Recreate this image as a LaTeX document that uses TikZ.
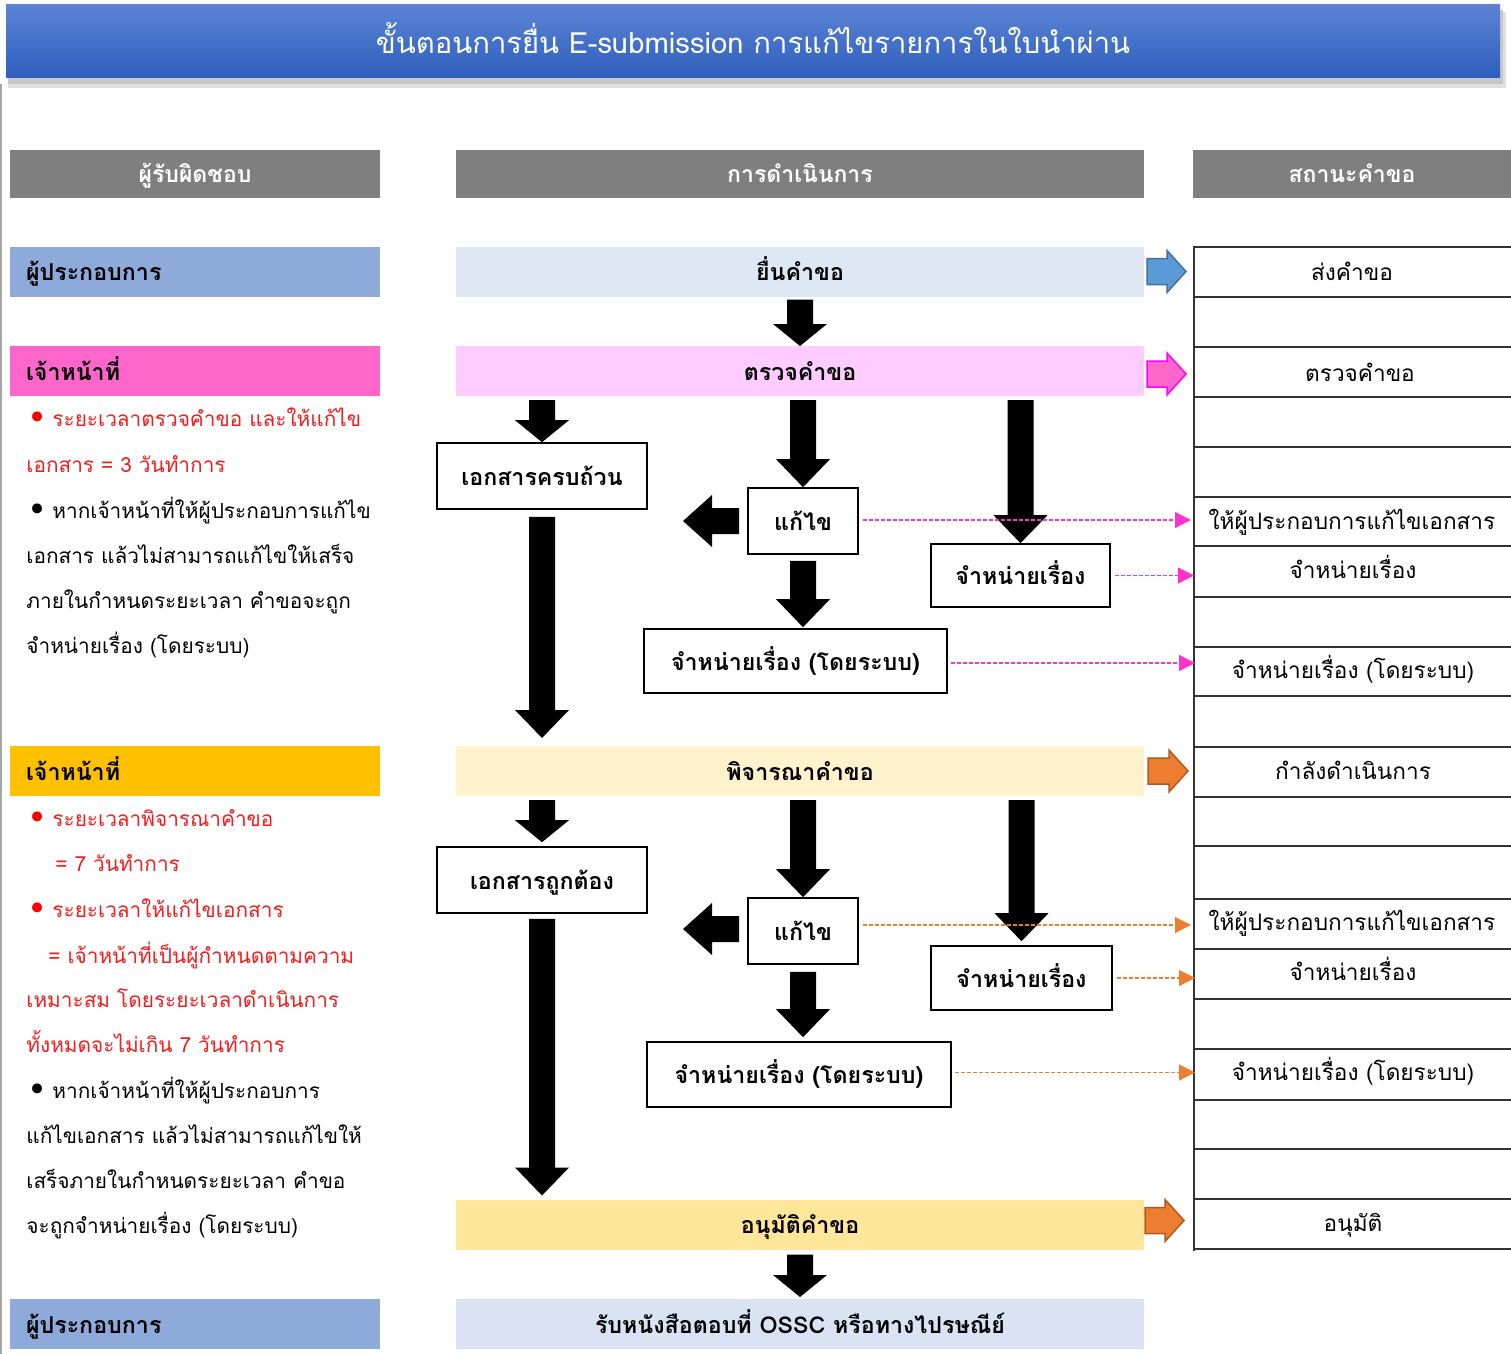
\documentclass[tikz,border=0pt]{standalone}
\usepackage{fontspec}
\setmainfont[Script=Thai]{Loma}
\newfontfamily\dejavu{DejaVu Sans}
\usetikzlibrary{calc,arrows.meta}
\definecolor{titleTop}{HTML}{5B84D4}
\definecolor{titleBot}{HTML}{2E5EBD}
\definecolor{hdrgray}{HTML}{7F7F7F}
\definecolor{opblue}{HTML}{8EAADB}
\definecolor{lightblue}{HTML}{DEE8F5}
\definecolor{pinkdark}{HTML}{FF66CC}
\definecolor{pinklight}{HTML}{FFCCFF}
\definecolor{goldband}{HTML}{FFC000}
\definecolor{cream}{HTML}{FFF2CC}
\definecolor{yellowband}{HTML}{FFE699}
\definecolor{paleblue}{HTML}{DAE3F3}
\definecolor{arrblue}{HTML}{5B9BD5}
\definecolor{arrblueb}{HTML}{41719C}
\definecolor{orangef}{HTML}{ED7D31}
\definecolor{orangeb}{HTML}{AE5A21}
\definecolor{magentab}{HTML}{FF00FF}
\definecolor{txtred}{HTML}{F41C1C}
\definecolor{dashpink}{HTML}{FF33CC}
\newcommand\bul[1]{\raisebox{-1.6pt}{\dejavu\fontsize{17}{17}\selectfont\color{#1}•}\hspace{2.5pt}}
% vertical block arrow: #1 start, #2 tip, #3 head length
\newcommand\vblk[3]{\fill[black] let \p1=(#1), \p2=(#2) in
  (\x2-6.5pt,\y1) -- (\x2+6.5pt,\y1) -- (\x2+6.5pt,\y2+#3) -- (\x2+13.5pt,\y2+#3)
  -- (\x2,\y2) -- (\x2-13.5pt,\y2+#3) -- (\x2-6.5pt,\y2+#3) -- cycle;}
% left block arrow: #1 start, #2 tip
\newcommand\lblk[2]{\fill[black] let \p1=(#1), \p2=(#2) in
  (\x1,\y2+6.5pt) -- (\x2+14.5pt,\y2+6.5pt) -- (\x2+14.5pt,\y2+13pt) -- (\x2,\y2)
  -- (\x2+14.5pt,\y2-13pt) -- (\x2+14.5pt,\y2-6.5pt) -- (\x1,\y2-6.5pt) -- cycle;}
% right status block arrow: #1 start, #2 tip, #3 fill, #4 border
\newcommand\rblk[4]{\filldraw[fill=#3, draw=#4, line width=0.75pt, line join=miter] let \p1=(#1), \p2=(#2) in
  (\x1,\y2+6.5pt) -- (\x2-9.5pt,\y2+6.5pt) -- (\x2-9.5pt,\y2+10.5pt) -- (\x2,\y2)
  -- (\x2-9.5pt,\y2-10.5pt) -- (\x2-9.5pt,\y2-6.5pt) -- (\x1,\y2-6.5pt) -- cycle;}
\begin{document}
\begin{tikzpicture}[x=0.5pt,y=-0.5pt,
  band/.style={inner ysep=0pt, inner xsep=0pt, outer sep=0pt, minimum height=25pt,
    text height=11pt, text depth=2pt, font=\fontsize{11.6}{14}\selectfont\bfseries},
  lband/.style={band, minimum width=185pt, inner xsep=8pt, text width=169pt, align=left},
  mband/.style={band, minimum width=344pt},
  hdr/.style={fill=hdrgray, text=white, inner sep=0pt, minimum height=24pt,
    text height=11pt, text depth=2pt, font=\fontsize{11.5}{14}\selectfont\bfseries},
  box/.style={draw=black, line width=0.8pt, fill=white, inner sep=0pt,
    text height=11pt, text depth=2pt, font=\fontsize{11.6}{14}\selectfont\bfseries},
  stat/.style={inner sep=0pt, text height=11pt, text depth=2pt, font=\fontsize{11.3}{14}\selectfont},
  note/.style={anchor=base west, inner sep=0pt, font=\fontsize{10.4}{14}\selectfont},
  rednote/.style={note, text=txtred},
  pdash/.style={draw=dashpink, line width=0.6pt, dash pattern=on 2pt off 1pt, -{Triangle[length=8pt,width=8pt]}},
  odash/.style={draw=orangef, line width=0.6pt, dash pattern=on 2pt off 1pt, -{Triangle[length=8pt,width=8pt]}},
  tline/.style={draw=black!80, line width=0.8pt}
]
\useasboundingbox (0,0) rectangle (1511,1354);
\fill[white] (0,0) rectangle (1511,1354);
\draw[black!35, line width=0.8pt] (1,84) -- (1,1354);

% title with shadow
\fill[black!12] (8,12) rectangle (1506,88);
\fill[black!22] (8,10) rectangle (1503,84);
\node[top color=titleTop, bottom color=titleBot, minimum width=747pt, minimum height=36.5pt, inner sep=0pt,
  text=white, text height=14pt, text depth=2pt, font=\fontsize{14.6}{18}\selectfont] (title) at (753,41.5) {ขั้นตอนการยื่น E-submission การแก้ไขรายการในใบนำผ่าน};

% column headers
\node[hdr, minimum width=185pt] (hL) at (195,174) {ผู้รับผิดชอบ};
\node[hdr, minimum width=344pt] (hM) at (800,174) {การดำเนินการ};
\node[hdr, minimum width=159pt] (hR) at (1352,174) {สถานะคำขอ};

% left bands
\node[lband, fill=opblue] (op1) at (195,271.5) {ผู้ประกอบการ};
\node[lband, fill=pinkdark] (off1) at (195,371) {เจ้าหน้าที่};
\node[lband, fill=goldband] (off2) at (195,771) {เจ้าหน้าที่};
\node[lband, fill=opblue] (op2) at (195,1324) {ผู้ประกอบการ};

% middle bands
\node[mband, fill=lightblue] (submit) at (800,271.5) {ยื่นคำขอ};
\node[mband, fill=pinklight] (check) at (800,371) {ตรวจคำขอ};
\node[mband, fill=cream] (consider) at (800,771) {พิจารณาคำขอ};
\node[mband, fill=yellowband] (approve) at (800,1224.5) {อนุมัติคำขอ};
\node[mband, fill=paleblue] (receive) at (800,1324) {รับหนังสือตอบที่ OSSC หรือทางไปรษณีย์};

% boxes section 1
\node[box, minimum width=105pt, minimum height=33pt] (doc1) at (542,476) {เอกสารครบถ้วน};
\node[box, minimum width=55pt, minimum height=33pt] (fix1) at (803,521) {แก้ไข};
\node[box, minimum width=151.5pt, minimum height=32pt] (sys1) at (795.5,661) {จำหน่ายเรื่อง (โดยระบบ)};
\node[box, minimum width=89.5pt, minimum height=31.5pt] (dis1) at (1020.5,575.5) {จำหน่ายเรื่อง};
% boxes section 2
\node[box, minimum width=105pt, minimum height=33pt] (doc2) at (542,880) {เอกสารถูกต้อง};
\node[box, minimum width=55pt, minimum height=33pt] (fix2) at (803,931) {แก้ไข};
\node[box, minimum width=152pt, minimum height=32.5pt] (sys2) at (799,1074.5) {จำหน่ายเรื่อง (โดยระบบ)};
\node[box, minimum width=90.5pt, minimum height=32pt] (dis2) at (1021.5,978) {จำหน่ายเรื่อง};

% status table
\coordinate (tbl) at (1194,0);
\draw[tline] (1194,246) -- (1194,1251);
\foreach \yy in {247,297,347,397,447,497,546,597,647,696,747,797,846,899,949,999,1049,1100,1149,1199,1249}
  \draw[tline] (1194,\yy) -- (1511,\yy);
\node[stat] (s1) at (1352,271) {ส่งคำขอ};
\node[stat] (s2) at (1360,372) {ตรวจคำขอ};
\node[stat] (s3) at (1352,520) {ให้ผู้ประกอบการแก้ไขเอกสาร};
\node[stat] (s4) at (1353,569) {จำหน่ายเรื่อง};
\node[stat] (s5) at (1353,669) {จำหน่ายเรื่อง (โดยระบบ)};
\node[stat] (s6) at (1353,770) {กำลังดำเนินการ};
\node[stat] (s7) at (1352,921) {ให้ผู้ประกอบการแก้ไขเอกสาร};
\node[stat] (s8) at (1353,971) {จำหน่ายเรื่อง};
\node[stat] (s9) at (1353,1071) {จำหน่ายเรื่อง (โดยระบบ)};
\node[stat] (s10) at (1353,1222) {อนุมัติ};

% status block arrows
\rblk{$(submit.east)+(3,0)$}{$(submit.east -| tbl)+(-8,0)$}{arrblue}{arrblueb}
\rblk{$(check.east)+(3,0)$}{$(check.east -| tbl)+(-8,3)$}{pinkdark}{magentab}
\rblk{$(consider.east)+(4,0)$}{$(consider.east -| tbl)+(-6,0)$}{orangef}{orangeb}
\rblk{$(approve.east)+(1,0)$}{$(approve.east -| tbl)+(-10,-4)$}{orangef}{orangeb}

% black block arrows
\vblk{$(submit.south)+(0,3)$}{check.north}{11pt}
\vblk{$(check.south -| doc1.north)+(0,4)$}{doc1.north}{11pt}
\vblk{$(check.south -| fix1.north)+(0,4)$}{fix1.north}{14pt}
\vblk{$(check.south -| dis1.north)+(0,4)$}{dis1.north}{14pt}
\vblk{$(fix1.south)+(0,6)$}{$(fix1.south |- sys1.north)+(0,-1)$}{14pt}
\vblk{$(doc1.south)+(0,7)$}{$(doc1.south |- consider.north)+(0,-8)$}{14pt}
\coordinate (lt1) at (683,521);
\lblk{$(fix1.west)+(-8,0)$}{lt1}

\vblk{$(consider.south -| doc2.north)+(0,4)$}{$(doc2.north)+(0,-4)$}{11pt}
\vblk{$(consider.south -| fix2.north)+(0,4)$}{fix2.north}{14pt}
\vblk{$(consider.south -| dis2.north)+(0,4)$}{$(dis2.north)+(0,-4)$}{14pt}
\vblk{$(fix2.south)+(0,7)$}{$(fix2.south |- sys2.north)+(0,-4)$}{14pt}
\vblk{$(doc2.south)+(0,5)$}{$(doc2.south |- approve.north)+(0,-4)$}{14pt}
\coordinate (lt2) at (683,929);
\lblk{$(fix2.west)+(-8,0)$}{lt2}
\vblk{$(approve.south)+(0,5)$}{$(approve.south |- receive.north)+(0,-2)$}{11pt}

% dashed connectors
\draw[pdash] ($(fix1.east)+(4,-1)$) -- ($(fix1.east -| tbl)+(-3,-1)$);
\draw[pdash] ($(dis1.east)+(4,0)$) -- ($(dis1.east -| tbl)+(0,0)$);
\draw[pdash] ($(sys1.east)+(3,2)$) -- ($(sys1.east -| tbl)+(1,2)$);
\draw[odash] ($(fix2.east)+(4,-6)$) -- ($(fix2.east -| tbl)+(-3,-6)$);
\draw[odash] ($(dis2.east)+(4,0)$) -- ($(dis2.east -| tbl)+(1,0)$);
\draw[odash] ($(sys2.east)+(3,-2)$) -- ($(sys2.east -| tbl)+(1,-2)$);

% notes section 1 (baselines)
\node[rednote] (n11) at (27,426) {\bul{red}ระยะเวลาตรวจคำขอ และให้แก้ไข};
\node[rednote] (n12) at (26,472) {เอกสาร = 3 วันทำการ};
\node[note] (n13) at (27,518) {\bul{black}หากเจ้าหน้าที่ให้ผู้ประกอบการแก้ไข};
\node[note] (n14) at (26,563) {เอกสาร แล้วไม่สามารถแก้ไขให้เสร็จ};
\node[note] (n15) at (26,608) {ภายในกำหนดระยะเวลา คำขอจะถูก};
\node[note] (n16) at (26,653) {จำหน่ายเรื่อง (โดยระบบ)};
% notes section 2
\node[rednote] (n21) at (27,826) {\bul{red}ระยะเวลาพิจารณาคำขอ};
\node[rednote] (n22) at (55,871) {= 7 วันทำการ};
\node[rednote] (n23) at (27,917) {\bul{red}ระยะเวลาให้แก้ไขเอกสาร};
\node[rednote] (n24) at (48,963) {= เจ้าหน้าที่เป็นผู้กำหนดตามความ};
\node[rednote] (n25) at (26,1007) {เหมาะสม โดยระยะเวลาดำเนินการ};
\node[rednote] (n26) at (26,1052) {ทั้งหมดจะไม่เกิน 7 วันทำการ};
\node[note] (n27) at (27,1098) {\bul{black}หากเจ้าหน้าที่ให้ผู้ประกอบการ};
\node[note] (n28) at (26,1143) {แก้ไขเอกสาร แล้วไม่สามารถแก้ไขให้};
\node[note] (n29) at (26,1188) {เสร็จภายในกำหนดระยะเวลา คำขอ};
\node[note] (n30) at (26,1233) {จะถูกจำหน่ายเรื่อง (โดยระบบ)};
\end{tikzpicture}
\end{document}
